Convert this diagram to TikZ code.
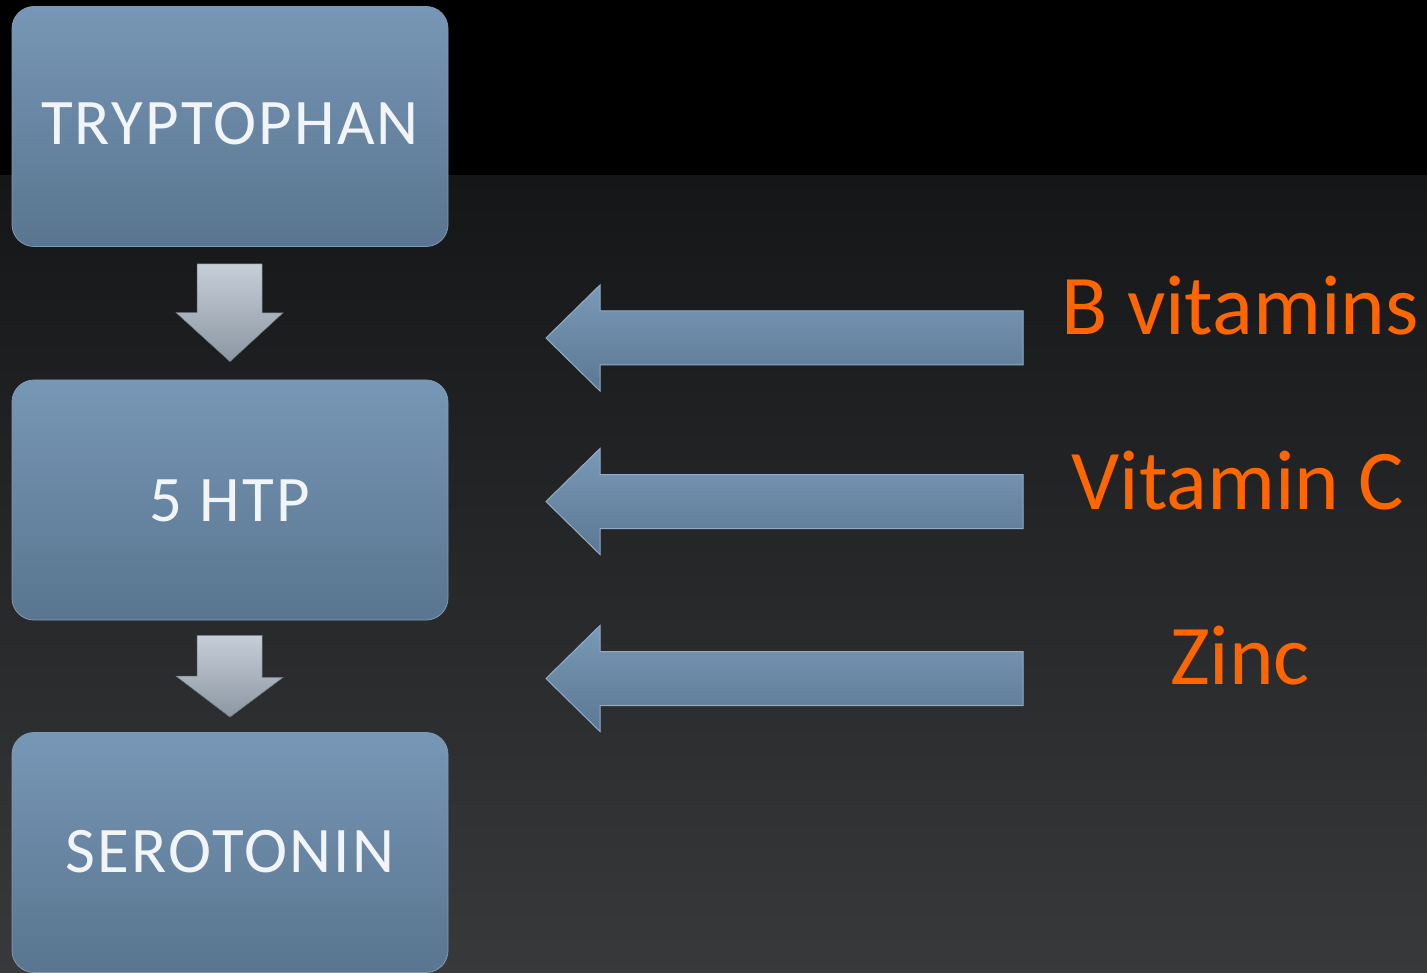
\documentclass[tikz,border=0pt]{standalone}
\usepackage{fontspec}
\setmainfont{Carlito}
\newfontfamily\boxfont[LetterSpace=3.5]{Carlito}
\definecolor{bgtop}{HTML}{151617}
\definecolor{bgbot}{HTML}{37393B}
\definecolor{boxtop}{HTML}{7797B6}
\definecolor{boxbot}{HTML}{59758F}
\definecolor{boxedge}{HTML}{7F9AB4}
\definecolor{dntop}{HTML}{C6CED8}
\definecolor{dnbot}{HTML}{8C97A3}
\definecolor{lftop}{HTML}{7999B7}
\definecolor{lfbot}{HTML}{5B7893}
\definecolor{lfedge}{HTML}{93ACC4}
\definecolor{orangetxt}{HTML}{FF6600}
\definecolor{boxtxt}{HTML}{F2F5F8}
\tikzset{
  box/.style={rounded corners=22pt, minimum width=436pt, minimum height=240pt,
    inner sep=0pt, top color=boxtop, bottom color=boxbot, draw=boxedge, line width=0.8pt},
  boxlabel/.style={anchor=base, text=boxtxt, font=\boxfont\fontsize{65}{70}\selectfont, inner sep=0pt},
  downarr/.style={top color=dntop, bottom color=dnbot, draw=dnbot!80!black, line width=0.5pt},
  leftarr/.style={top color=lftop, bottom color=lfbot, draw=lfedge, line width=1pt},
  cofactor/.style={anchor=base, text=orangetxt, font=\fontsize{85}{90}\selectfont, inner sep=0pt}
}
\begin{document}
\begin{tikzpicture}[x=1pt,y=-1pt]
\useasboundingbox (0,0) rectangle (1427,973);
\fill[black] (0,0) rectangle (1427,176);
\shade[top color=bgtop, bottom color=bgbot] (0,176) rectangle (1427,973);

% boxes
\node[box] (trp) at (230,126.5) {};
\node[box] (htp) at (230,500) {};
\node[box] (ser) at (230,852.5) {};
\node[boxlabel] (trpL) at (230,145) {TRYPTOPHAN};
\node[boxlabel] (htpL) at (230,521) {5 HTP};
\node[boxlabel] (serL) at (230,872) {SEROTONIN};

% down arrows between boxes
\path[downarr] ([shift={(-33,17)}]trp.south) -- ++(65,0) -- ++(0,49) -- ++(21,0)
  -- ([yshift=18pt]htp.north) -- ++(-54,-49) -- ++(21,0) -- cycle;
\path[downarr] ([shift={(-33,15)}]htp.south) -- ++(65,0) -- ++(0,42) -- ++(21,0)
  -- ([yshift=15pt]ser.north) -- ++(-54,-41) -- ++(21,0) -- cycle;

% cofactor labels
\node[cofactor] (bv) at (1240,335) {B vitamins};
\node[cofactor] (vc) at (1238,509) {Vitamin C};
\node[cofactor] (zn) at (1240,684) {Zinc};

% left arrows
\coordinate (a1) at (546,338);
\coordinate (a2) at (546,501.5);
\coordinate (a3) at (546,678.5);
\foreach \t in {a1,a2,a3}{
  \path[leftarr] (\t) -- ++(54,-53) -- ++(0,26) -- ++(423,0) -- ++(0,54) -- ++(-423,0)
    -- ++(0,26) -- cycle;
}
\end{tikzpicture}
\end{document}
